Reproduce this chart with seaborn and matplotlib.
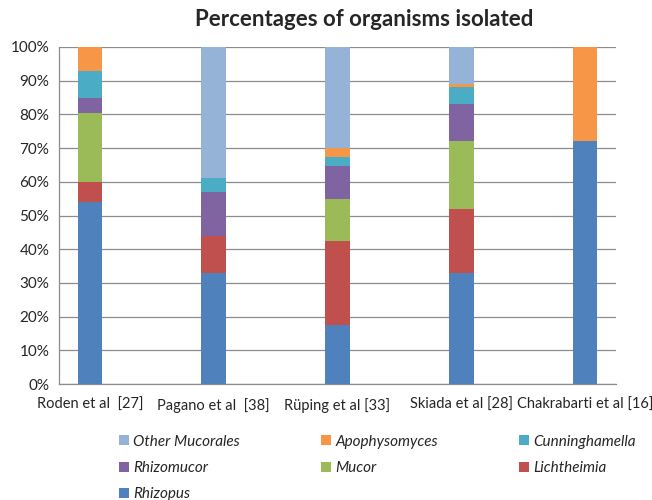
import matplotlib
matplotlib.use("Agg")
import matplotlib.pyplot as plt
from matplotlib.patches import Patch
from matplotlib.ticker import FixedLocator, PercentFormatter
import numpy as np
import pandas as pd
import seaborn as sns

# =========================
# DATA (percent of isolates)
# =========================
studies = ["Roden et al  [27]", "Pagano et al  [38]", "Rüping et al [33]",
           "Skiada et al [28]", "Chakrabarti et al [16]"]

# bottom -> top stacking order
organisms = ["Rhizopus", "Lichtheimia", "Mucor", "Rhizomucor",
             "Cunninghamella", "Apophysomyces", "Other Mucorales"]

rhizopus = [54.0, 33.0, 17.5, 33.0, 72.2]
lichtheimia = [6.0, 11.0, 24.8, 19.0, 0.0]
mucor = [20.3, 0.0, 12.5, 20.0, 0.0]
rhizomucor = [4.7, 13.0, 10.0, 11.0, 0.0]
cunninghamella = [8.0, 4.0, 2.5, 5.0, 0.0]
apophysomyces = [7.0, 0.0, 2.7, 1.0, 27.8]
other_mucorales = [0.0, 39.0, 30.0, 11.0, 0.0]

colors = ["#4F81BD", "#C0504D", "#9BBB59", "#8064A2",
          "#4BACC6", "#F79646", "#95B3D7"]

df = pd.DataFrame({
    "Rhizopus": rhizopus,
    "Lichtheimia": lichtheimia,
    "Mucor": mucor,
    "Rhizomucor": rhizomucor,
    "Cunninghamella": cunninghamella,
    "Apophysomyces": apophysomyces,
    "Other Mucorales": other_mucorales,
}, index=studies)
cum = df[organisms].cumsum(axis=1)

# =========================
# PLOT
# =========================
sns.set_style("white")
plt.rcParams["font.family"] = ["Lato", "DejaVu Sans"]

fig = plt.figure(figsize=(6.52, 5.0), dpi=100)
ax = fig.add_axes([59 / 652, 1 - 384 / 500, (616 - 59) / 652, (384 - 47) / 500])

# stacked bars: draw the running totals from the top series down
for name, col in zip(organisms[::-1], colors[::-1]):
    sns.barplot(x=studies, y=cum[name].values, color=col, width=0.2,
                saturation=1, linewidth=0, edgecolor="none", ax=ax, zorder=3)

ax.set_xlim(-0.25, 4.25)
ax.set_ylim(0, 100)
ax.yaxis.set_major_locator(FixedLocator(np.arange(0, 101, 10)))
ax.yaxis.set_major_formatter(PercentFormatter(decimals=0))
ax.grid(axis="y", color="#8C8C8C", linewidth=0.9, zorder=0)
ax.grid(axis="x", visible=False)

ax.xaxis.set_minor_locator(FixedLocator(np.arange(-0.25, 4.26, 0.5)))
ax.tick_params(axis="x", which="major", length=0, labelsize=10.5, pad=10)
ax.tick_params(axis="x", which="minor", length=4, color="#8C8C8C", direction="out")
ax.tick_params(axis="y", length=4, color="#8C8C8C", direction="out", labelsize=11, pad=3)
ax.set_xlabel("")
ax.set_ylabel("")

for s in ["top", "right"]:
    ax.spines[s].set_visible(False)
for s in ["left", "bottom"]:
    ax.spines[s].set_color("#8C8C8C")
    ax.spines[s].set_linewidth(0.9)

fig.text(364 / 652, 1 - 20 / 500, "Percentages of organisms isolated",
         ha="center", va="center", fontsize=16, fontweight="bold")

# legend (column-major fill, so reorder to read row by row like the original)
leg_order = ["Other Mucorales", "Rhizomucor", "Rhizopus",
             "Apophysomyces", "Mucor",
             "Cunninghamella", "Lichtheimia"]
col_of = dict(zip(organisms, colors))
handles = [Patch(facecolor=col_of[n], edgecolor="none", label=n) for n in leg_order]
fig.legend(handles=handles, ncol=3, loc="upper left",
           bbox_to_anchor=(105 / 652, 1 - 421 / 500), frameon=False,
           prop={"style": "italic", "size": 11}, handlelength=0.65,
           handleheight=0.65, handletextpad=0.3, columnspacing=5.3,
           labelspacing=0.8)

fig.savefig("out.png", dpi=100)
